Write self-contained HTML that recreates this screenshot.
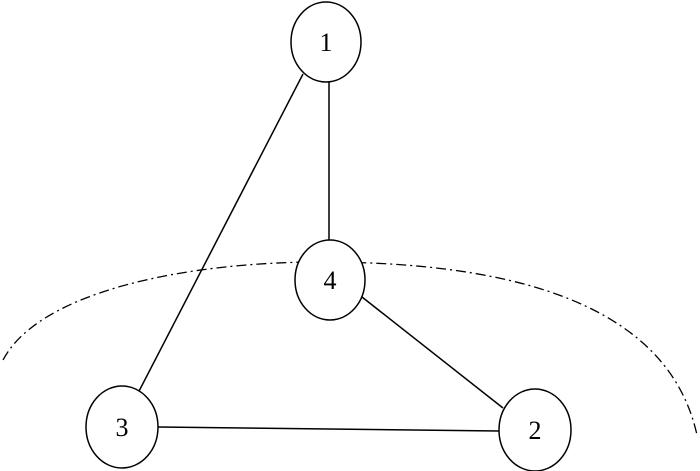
<!DOCTYPE html>
<html><head><style>html,body{margin:0;padding:0;background:#fff}svg{display:block}</style></head>
<body>
<svg width="700" height="471" xmlns="http://www.w3.org/2000/svg">
<path d="M3,360 C40,290 190,262 320,262 C480,262 665,290 697,435" fill="none" stroke="#000" stroke-width="1.3" stroke-dasharray="10 4 2 4"/>
<g stroke="#000" stroke-width="1.5" fill="none">
<line x1="303" y1="74" x2="137" y2="395"/>
<line x1="329" y1="82" x2="329" y2="240"/>
<line x1="362" y1="297" x2="503" y2="408"/>
<line x1="158" y1="427" x2="499" y2="431"/>
</g>
<g stroke="#000" stroke-width="1.5" fill="#fff">
<ellipse cx="326" cy="42" rx="35" ry="40"/>
<ellipse cx="330" cy="280" rx="35" ry="40"/>
<ellipse cx="122" cy="427" rx="36" ry="41"/>
<ellipse cx="535" cy="430" rx="36" ry="41"/>
</g>
<g font-family="Liberation Serif, serif" font-size="26" text-anchor="middle">
<text x="326" y="51">1</text>
<text x="330" y="289">4</text>
<text x="122" y="436">3</text>
<text x="535" y="439">2</text>
</g>
</svg>
</body></html>
